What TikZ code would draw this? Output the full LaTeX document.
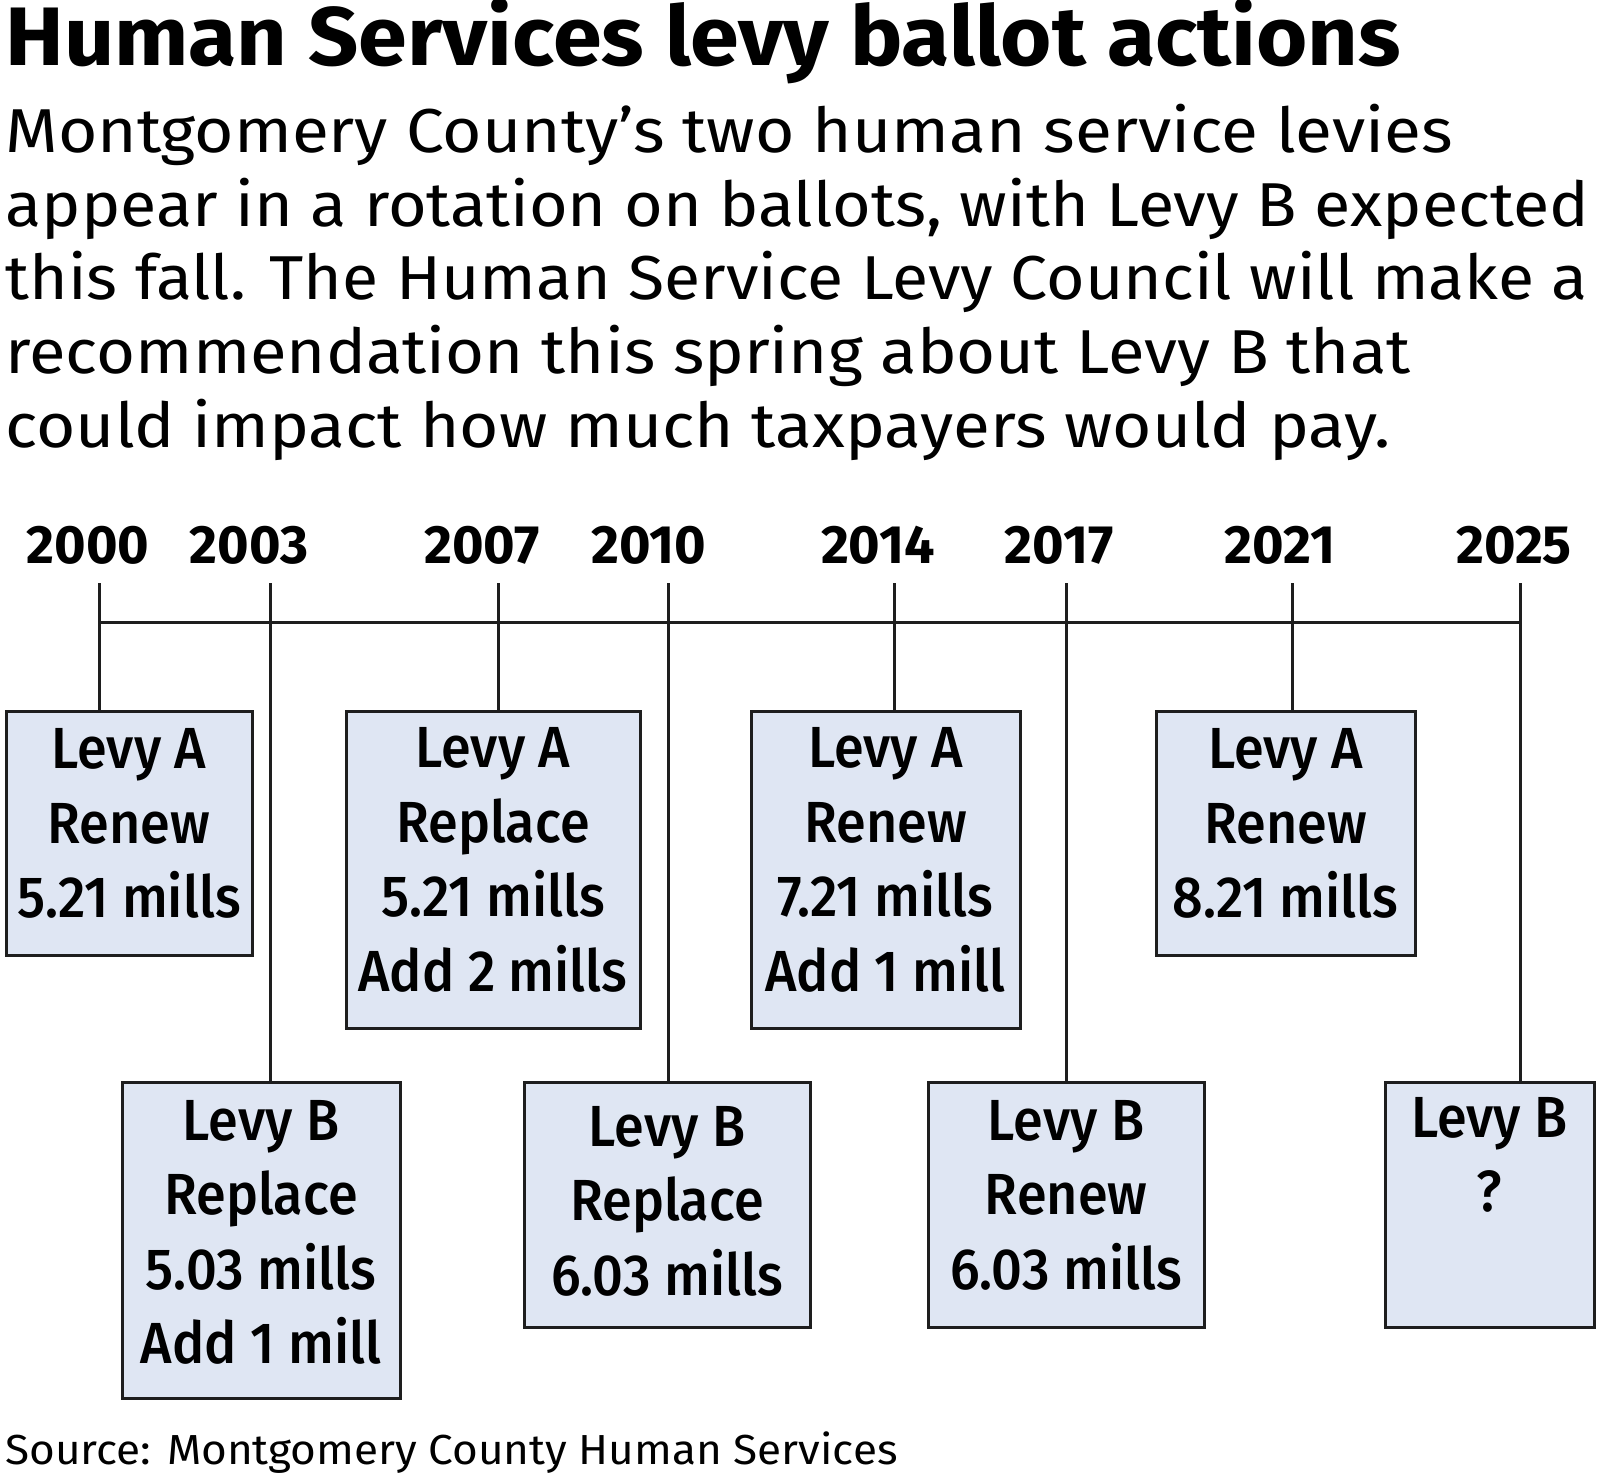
\documentclass[tikz,border=0pt]{standalone}
\usepackage{fontspec}
\setmainfont{Fira Sans}
\newfontfamily\titlefont[FakeStretch=1.06]{Fira Sans}
\newfontfamily\subfont{Fira Sans}
\newfontfamily\boxfont[FakeStretch=0.93]{Fira Sans Medium}
\newfontfamily\srcfont[FakeStretch=1.05]{Fira Sans}
\definecolor{boxfill}{HTML}{DFE6F3}
\definecolor{linegray}{HTML}{1E1E1E}

\begin{document}
\begin{tikzpicture}[
  x=0.5pt, y=-0.5pt, line width=1.5pt,
  levybox/.style={draw=linegray, fill=boxfill, line width=1.5pt, inner sep=0pt,
    align=center, text depth=10pt, font=\boxfont\fontsize{29}{37.25}\selectfont},
  yearlab/.style={anchor=base, inner sep=0pt, font=\bfseries\fontsize{27}{27}\selectfont},
]
\useasboundingbox (0,0) rectangle (1600,1481);

% 标题
\node[anchor=base west, inner sep=0pt, font=\titlefont\bfseries\fontsize{41.5}{41.5}\selectfont]
  (title) at (4,66) {Human Services levy ballot actions};

% 说明文字，逐行（每行横向缩放以对齐原宽度）
\foreach \sx/\txt [count=\i] in {
  1.09/{Montgomery County’s two human service levies},
  1.071/{appear in a rotation on ballots, with Levy B expected},
  1.067/{this fall. The Human Service Levy Council will make a},
  1.08/{recommendation this spring about Levy B that},
  1.088/{could impact how much taxpayers would pay.}}
  \node[anchor=base west, inner sep=0pt, font=\subfont\fontsize{31}{31}\selectfont]
    (sub\i) at (4,{153+73.5*(\i-1)}) {\scalebox{\sx}[1]{\txt}};

% 上排：Levy A
\node[levybox, minimum width=123pt, minimum height=122pt] (a2000) at (129,833)
  {Levy A\\Renew\\5.21 mills};
\node[levybox, minimum width=147pt, minimum height=158.5pt] (a2007) at (493,869.5)
  {Levy A\\Replace\\5.21 mills\\Add 2 mills};
\node[levybox, minimum width=134.5pt, minimum height=158.5pt] (a2014) at (885.5,869.5)
  {Levy A\\Renew\\7.21 mills\\Add 1 mill};
\node[levybox, minimum width=129.5pt, minimum height=122pt] (a2021) at (1285.5,833)
  {Levy A\\Renew\\8.21 mills};

% 下排：Levy B
\node[levybox, text depth=8pt, minimum width=139pt, minimum height=158pt] (b2003) at (261,1240)
  {Levy B\\Replace\\5.03 mills\\Add 1 mill};
\node[levybox, text depth=4pt, minimum width=143pt, minimum height=122.5pt] (b2010) at (667,1204.5)
  {Levy B\\Replace\\6.03 mills};
\node[levybox, minimum width=138pt, minimum height=122.5pt] (b2017) at (1066,1204.5)
  {Levy B\\Renew\\6.03 mills};
\node[levybox, text depth=13pt, minimum width=104.5pt, minimum height=122.5pt] (b2025) at (1489.5,1204.5)
  {Levy B\\?\\\strut};

% 时间轴
\coordinate (axisL) at (99,622);
\coordinate (axisR) at (1520,622);
\draw[linegray] (axisL) -- (axisR);

% 年份、刻度与连线
\foreach \yr/\tx/\lx/\row in {2000/99/88/a, 2003/270/249/b, 2007/498/482/a,
  2010/668/649/b, 2014/894/878/a, 2017/1066/1059/b, 2021/1292/1280/a, 2025/1520/1514/b}{
  \coordinate (t\yr) at (\tx,583);
  \node[yearlab] (y\yr) at (\lx,563) {\yr};
  \draw[linegray] (t\yr) -- (t\yr |- \row\yr.north);
}

% 来源
\node[anchor=base west, inner sep=0pt, font=\srcfont\fontsize{21}{21}\selectfont]
  (src) at (4,1464) {Source: Montgomery County Human Services};

\end{tikzpicture}
\end{document}
